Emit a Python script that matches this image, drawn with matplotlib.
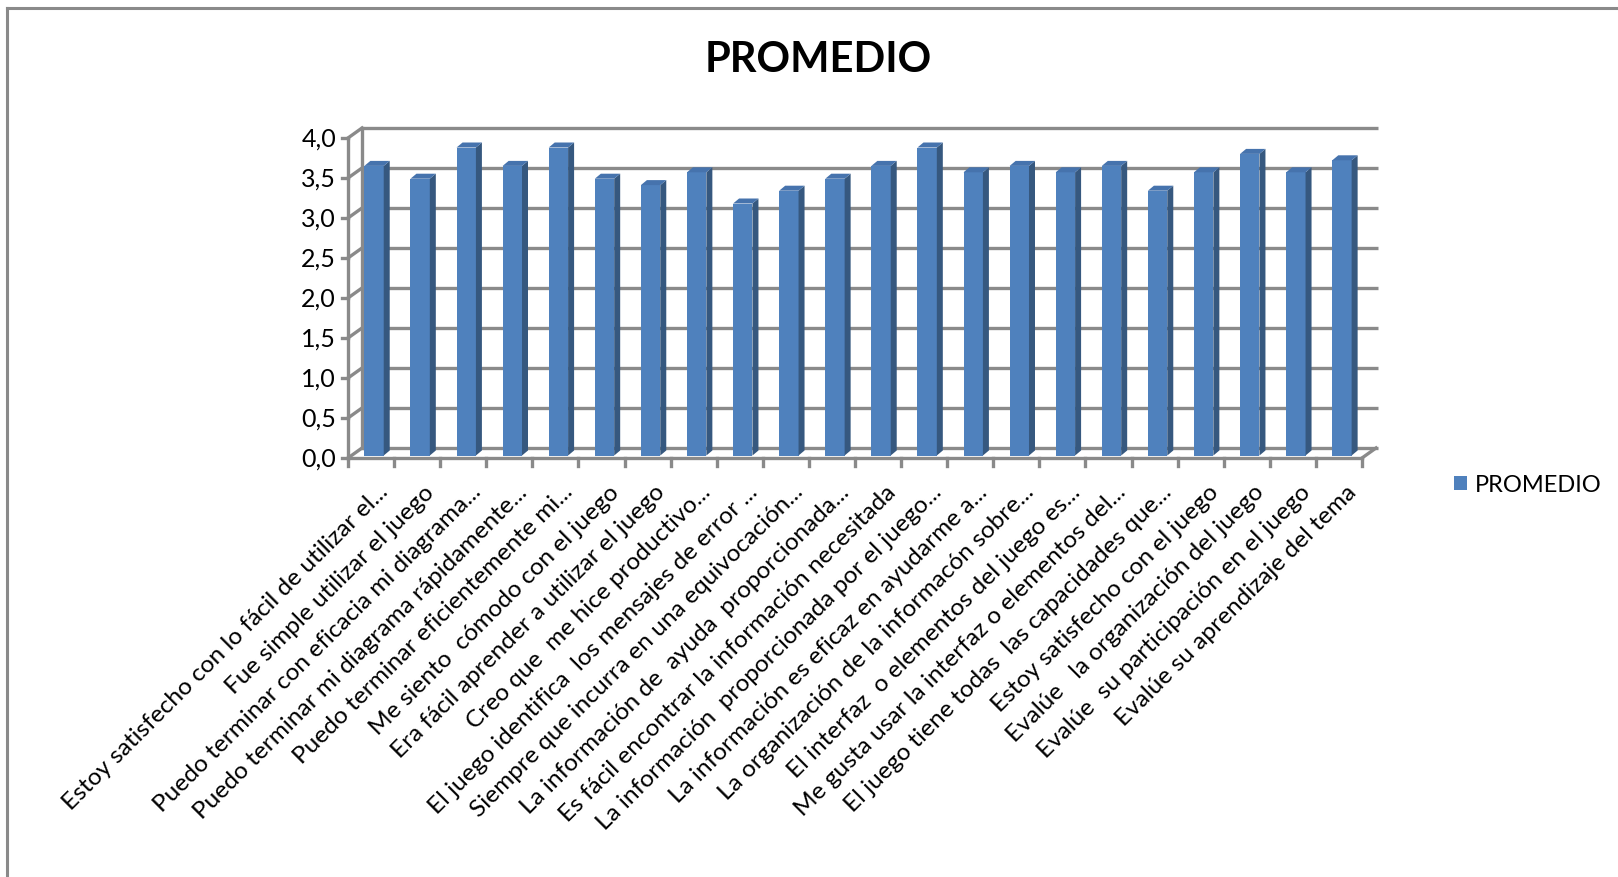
import matplotlib
matplotlib.use("Agg")
import matplotlib.pyplot as plt
from matplotlib.patches import Polygon
from matplotlib.lines import Line2D
import numpy as np

# ---- data -------------------------------------------------------------
categories = [
    "Estoy satisfecho con lo fácil de utilizar el...",
    "Fue simple utilizar el juego",
    "Puedo terminar con eficacia mi diagrama...",
    "Puedo terminar mi diagrama rápidamente...",
    "Puedo terminar eficientemente mi...",
    "Me siento  cómodo con el juego",
    "Era fácil aprender a utilizar el juego",
    "Creo que  me hice productivo...",
    "El juego identifica  los mensajes de error ...",
    "Siempre que incurra en una equivocación...",
    "La información de  ayuda  proporcionada...",
    "Es fácil encontrar la información necesitada",
    "La información  proporcionada por el juego...",
    "La información es eficaz en ayudarme a...",
    "La organización de la informacón sobre...",
    "El interfaz  o elementos del juego es...",
    "Me gusta usar la interfaz o elementos del...",
    "El juego tiene todas  las capacidades que...",
    "Estoy satisfecho con el juego",
    "Evalúe   la organización del juego",
    "Evalúe  su participación en el juego",
    "Evalúe su aprendizaje del tema",
]
promedio = [3.62, 3.46, 3.85, 3.62, 3.85, 3.46, 3.38, 3.54, 3.15, 3.31, 3.46,
            3.62, 3.85, 3.54, 3.62, 3.54, 3.62, 3.31, 3.54, 3.77, 3.54, 3.69]
y_ticks = [0.0, 0.5, 1.0, 1.5, 2.0, 2.5, 3.0, 3.5, 4.0]
y_tick_labels = ["0,0", "0,5", "1,0", "1,5", "2,0", "2,5", "3,0", "3,5", "4,0"]
series_name = "PROMEDIO"
title = "PROMEDIO"

# ---- style ------------------------------------------------------------
FONT = "Lato"
plt.rcParams["font.family"] = [FONT, "DejaVu Sans"]
W_PX, H_PX, DPI = 1618, 878, 100
GRID = "#8a8a8a"
FRONT = "#4F81BD"
SIDE = "#36587F"
TOP = "#4673AD"

fig = plt.figure(figsize=(W_PX / DPI, H_PX / DPI), dpi=DPI)
fig.patch.set_facecolor("white")

# front plane of the plot box (pixels)
left_px, right_px = 348, 1362
top_px, bottom_px = 139, 459
ax = fig.add_axes([left_px / W_PX, 1 - bottom_px / H_PX,
                   (right_px - left_px) / W_PX, (bottom_px - top_px) / H_PX])
n = len(categories)
x = np.arange(n)
ax.set_xlim(-0.5, n - 0.5)
ax.set_ylim(0, 4)
ax.axis("off")

# pixel -> data unit helpers
px_x = (right_px - left_px) / n
px_y = (bottom_px - top_px) / 4.0
def dxu(p):
    return p / px_x
def dyu(p):
    return p / px_y

# depth offsets (pixels): walls and bars
wall_dx, wall_dy = 14, 10
bar_sx, bar_sy = 3, 2.5
bar_dx, bar_dy = 6, 5
lw_grid = 2.4

x0, x1 = -0.5, n - 0.5
# back wall gridlines
for yv in y_ticks:
    ax.plot([x0 + dxu(wall_dx), x1 + dxu(wall_dx) + dxu(2)],
            [yv + dyu(wall_dy)] * 2, color=GRID, lw=lw_grid,
            clip_on=False, zorder=1, solid_capstyle="butt")
    # side wall diagonals
    ax.plot([x0, x0 + dxu(wall_dx)], [yv, yv + dyu(wall_dy)],
            color=GRID, lw=lw_grid, clip_on=False, zorder=1)
    # y ticks
    ax.plot([x0 - dxu(6), x0], [yv, yv], color=GRID, lw=lw_grid,
            clip_on=False, zorder=1)
# back edge of the side wall
ax.plot([x0 + dxu(wall_dx)] * 2, [dyu(wall_dy), 4 + dyu(wall_dy)],
        color=GRID, lw=lw_grid, clip_on=False, zorder=1)
# front vertical axis
ax.plot([x0, x0], [0, 4], color=GRID, lw=lw_grid, clip_on=False, zorder=1)
# floor front edge and right diagonal
ax.plot([x0, x1], [0, 0], color=GRID, lw=lw_grid, clip_on=False, zorder=1)
ax.plot([x1, x1 + dxu(wall_dx)], [0, dyu(wall_dy)], color=GRID, lw=lw_grid,
        clip_on=False, zorder=1)
# category tick marks
for k in range(n + 1):
    xb = k - 0.5
    ax.plot([xb, xb], [0, -dyu(8)], color=GRID, lw=lw_grid, clip_on=False,
            zorder=1)

# bars: front faces through the axes scale, then side and top faces
bw = 0.42
sx, sy = dxu(bar_sx), dyu(bar_sy)
bars = ax.bar(x + sx, promedio, width=bw, bottom=sy, color=FRONT,
              edgecolor="none", zorder=3, label=series_name, clip_on=False)
ddx, ddy = dxu(bar_dx), dyu(bar_dy)
for xi, v in zip(x, promedio):
    xl = xi + sx - bw / 2
    xr = xi + sx + bw / 2
    yb, yt = sy, sy + v
    ax.add_patch(Polygon([(xr, yb), (xr, yt), (xr + ddx, yt + ddy),
                          (xr + ddx, yb + ddy)], closed=True,
                         facecolor=SIDE, edgecolor="none", zorder=3,
                         clip_on=False))
    ax.add_patch(Polygon([(xl, yt), (xr, yt), (xr + ddx, yt + ddy),
                          (xl + ddx, yt + ddy)], closed=True,
                         facecolor=TOP, edgecolor="none", zorder=3,
                         clip_on=False))

# y tick labels
for yv, lab in zip(y_ticks, y_tick_labels):
    ax.annotate(lab, xy=(x0, yv), xycoords="data", xytext=(-12, 0),
                textcoords="offset pixels", ha="right", va="center",
                fontsize=18, color="black")

# category labels, rotated 45 degrees
for xi, lab in zip(x, categories):
    ax.annotate(lab, xy=(xi, 0), xycoords="data", xytext=(14, -30),
                textcoords="offset pixels", ha="right", va="center",
                rotation=45, rotation_mode="anchor", fontsize=17.6,
                color="black")

# title
fig.text(818 / W_PX, 1 - 60 / H_PX, title, ha="center", va="center",
         fontsize=30, fontweight="bold", color="black")

# legend
fig.legend(handles=[bars], labels=[series_name], loc="center left",
           bbox_to_anchor=(1454 / W_PX, 1 - 486 / H_PX), frameon=False,
           handlelength=0.55, handleheight=0.55, handletextpad=0.35,
           borderpad=0, borderaxespad=0, fontsize=17)

# chart area border (left and top edges)
fig.add_artist(Line2D([7 / W_PX, 7 / W_PX], [0, 1 - 9 / H_PX],
                      transform=fig.transFigure, color=GRID, lw=2.2))
fig.add_artist(Line2D([7 / W_PX, 1], [1 - 9 / H_PX, 1 - 9 / H_PX],
                      transform=fig.transFigure, color=GRID, lw=2.2))

fig.savefig("out.png", dpi=DPI, facecolor="white")
